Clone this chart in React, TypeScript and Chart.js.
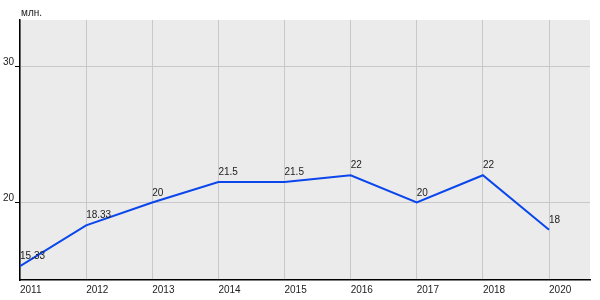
import React, { useEffect, useRef } from "react";
import { Chart, registerables } from "chart.js";

Chart.register(...registerables);

const categories = ["2011", "2012", "2013", "2014", "2015", "2016", "2017", "2018", "2020"];
const values = [15.33, 18.33, 20, 21.5, 21.5, 22, 20, 22, 18];
const valueLabels = ["15.33", "18.33", "20", "21.5", "21.5", "22", "20", "22", "18"];
const yTicks = [20, 30];
const unitLabel = "млн.";

const FONT = "'Liberation Sans', Arial, sans-serif";

export default function App() {
  const ref = useRef<HTMLCanvasElement | null>(null);
  useEffect(() => {
    if (!ref.current) return;
    const bgPlugin = {
      id: "bg",
      beforeDraw(chart: any) {
        const { ctx, chartArea } = chart;
        ctx.save();
        ctx.fillStyle = "#ebebeb";
        ctx.fillRect(chartArea.left, chartArea.top, chartArea.right - chartArea.left, chartArea.bottom - chartArea.top);
        ctx.restore();
      },
      afterDatasetsDraw(chart: any) {
        const { ctx, chartArea } = chart;
        const meta = chart.getDatasetMeta(0);
        ctx.save();
        ctx.font = "10px " + FONT;
        ctx.fillStyle = "#222";
        ctx.textAlign = "left";
        ctx.textBaseline = "alphabetic";
        meta.data.forEach((pt: any, i: number) => {
          ctx.fillText(valueLabels[i], pt.x, pt.y - 7);
        });
        ctx.textBaseline = "middle";
        ctx.fillText(unitLabel, chartArea.left + 1, 13);
        ctx.restore();
      },
    };
    const chart = new Chart(ref.current, {
      type: "line",
      data: {
        datasets: [
          {
            data: values.map((v, i) => ({ x: i, y: v })),
            borderColor: "#0a46ec",
            borderWidth: 2,
            pointRadius: 0,
            fill: false,
            tension: 0,
          },
        ],
      },
      options: {
        animation: false,
        responsive: false,
        maintainAspectRatio: false,
        layout: { padding: { top: 20, right: 10, left: 0, bottom: 0 } },
        plugins: { legend: { display: false }, tooltip: { enabled: false } },
        scales: {
          x: {
            type: "linear",
            min: 0,
            max: 8.62,
            afterBuildTicks: (scale: any) => {
              scale.ticks = categories.map((_, i) => ({ value: i }));
            },
            afterFit: (scale: any) => {
              scale.height = 20;
            },
            ticks: {
              callback: (v: any) => categories[v as number] ?? "",
              align: "start",
              maxRotation: 0,
              autoSkip: false,
              padding: 4,
              color: "#222",
              font: { size: 10, family: FONT },
            },
            grid: { color: "#c8c8c8", drawTicks: false, lineWidth: 1 },
            border: { color: "#000", width: 1.5 },
          },
          y: {
            type: "linear",
            min: 14.32,
            max: 33.38,
            afterBuildTicks: (scale: any) => {
              scale.ticks = yTicks.map((v) => ({ value: v }));
            },
            afterFit: (scale: any) => {
              scale.width = 20;
            },
            ticks: {
              callback: (v: any) => [String(v), ""],
              padding: 1,
              color: "#222",
              font: { size: 10, family: FONT, lineHeight: 0.8 },
            },
            grid: { color: "#c8c8c8", tickColor: "#000", tickLength: 5, lineWidth: 1 },
            border: { color: "#000", width: 1.5 },
          },
        },
      },
      plugins: [bgPlugin],
    });
    return () => chart.destroy();
  }, []);
  return (
    <div style={{ position: "fixed", left: 0, top: 0, width: 600, height: 300, background: "#fff" }}>
      <canvas ref={ref} width={600} height={300} style={{ width: 600, height: 300 }} />
    </div>
  );
}
